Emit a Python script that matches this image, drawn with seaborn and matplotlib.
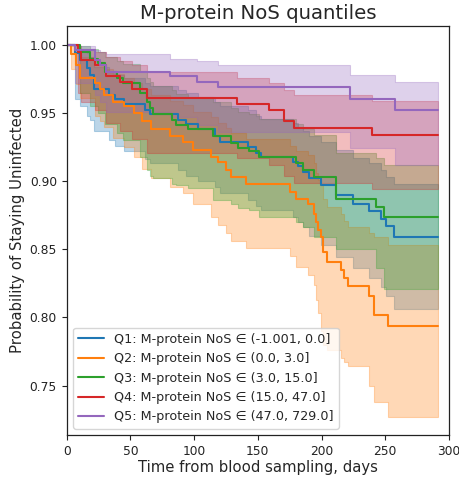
import matplotlib
matplotlib.use("Agg")
import matplotlib.pyplot as plt
import seaborn as sns

# Kaplan-Meier estimates (survival = staying uninfected) per M-protein NoS quantile.
# Each group: event days, survival after each event, and 95% CI bounds.
labels = [
    "Q1: M-protein NoS \u2208 (-1.001, 0.0]",
    "Q2: M-protein NoS \u2208 (0.0, 3.0]",
    "Q3: M-protein NoS \u2208 (3.0, 15.0]",
    "Q4: M-protein NoS \u2208 (15.0, 47.0]",
    "Q5: M-protein NoS \u2208 (47.0, 729.0]",
]
colors = ["#1f77b4", "#ff7f0e", "#2ca02c", "#d62728", "#9467bd"]
follow_up_end = 291

q1_days = [0, 6.3, 10.4, 15.9, 18.2, 21.4, 33.1, 37.8, 44.8, 61.3, 65.1, 87.1, 93.9, 103.0,
           116.0, 120.0, 142.1, 148.7, 152.6, 177.3, 181.2, 185.1, 190.4, 199.5, 211.3, 224.3,
           237.3, 246.5, 250.4, 256.9]
q1_surv = [1.0, .994, .989, .983, .978, .968, .963, .960, .957, .952, .949, .945, .942, .938,
           .933, .929, .925, .921, .918, .914, .911, .907, .902, .897, .890, .883,
           .878, .872, .867, .859]
q1_lower = [1.0, .960, .955, .948, .945, .937, .930, .926, .922, .916, .913, .908, .904, .900,
            .896, .891, .886, .882, .879, .874, .870, .866, .860, .853, .844, .836,
            .829, .822, .816, .806]
q1_upper = [1.0, .999, .997, .994, .991, .984, .980, .978, .976, .972, .970, .967, .965, .962,
            .958, .955, .952, .948, .946, .943, .940, .937, .933, .929, .923, .917,
            .913, .908, .903, .898]

q2_days = [0, 3.4, 7.3, 10.4, 22.1, 26.1, 29.2, 36.2, 44.8, 52.7, 58.9, 66.0, 80.8, 91.2, 99.1,
           113.5, 118.6, 125.2, 129.1, 140.8, 175.5, 180.2, 189.0, 194.3, 195.6, 197.4, 199.5,
           201.3, 203.9, 215.2, 217.8, 220.9, 237.3, 240.8, 252.4]
q2_surv = [1.0, .993, .985, .976, .972, .968, .963, .958, .955, .950, .944, .938, .933, .929, .923,
           .918, .914, .908, .903, .898, .892, .887, .883, .876, .870, .864, .859,
           .848, .841, .835, .829, .823, .816, .802, .794]
q2_lower = [1.0, .982, .971, .961, .948, .944, .940, .932, .925, .918, .909, .902, .896, .891, .883,
            .874, .868, .862, .856, .851, .845, .837, .831, .824, .813, .803, .790,
            .780, .776, .770, .767, .764, .750, .738, .727]
q2_upper = [1.0, .999, .996, .991, .988, .985, .982, .979, .976, .972, .968, .963, .959, .956, .951,
            .947, .943, .939, .935, .931, .926, .922, .919, .913, .906, .901, .897,
            .887, .881, .876, .871, .866, .862, .859, .853]

q3_days = [0, 10.6, 18.2, 24.5, 30.0, 39.4, 44.1, 57.4, 62.8, 65.2, 67.5, 82.4, 85.5, 95.1,
           114.7, 129.1, 134.3, 143.4, 151.3, 180.0, 185.1, 194.3, 211.3, 242.6, 249.1]
q3_surv = [1.0, .995, .990, .987, .980, .976, .972, .965, .958, .954, .949, .945, .941, .938,
           .933, .928, .924, .922, .918, .913, .908, .903, .887, .881, .874]
q3_lower = [1.0, .965, .955, .950, .942, .935, .930, .918, .908, .904, .902, .898, .897, .895,
            .886, .883, .880, .879, .874, .870, .866, .859, .850, .836, .821]
q3_upper = [1.0, .999, .997, .995, .991, .988, .986, .981, .976, .973, .970, .967, .964, .962,
            .958, .954, .951, .949, .946, .942, .938, .934, .921, .917, .912]

q4_days = [0, 8.8, 11.2, 22.1, 30.8, 41.7, 51.1, 62.8, 134.0, 159.0, 170.8, 178.6, 239.7]
q4_surv = [1.0, .995, .989, .985, .977, .973, .968, .961, .957, .952, .944, .939, .934]
q4_lower = [1.0, .965, .958, .952, .943, .937, .931, .921, .917, .912, .904, .899, .894]
q4_upper = [1.0, .999, .997, .995, .991, .988, .985, .980, .976, .972, .967, .963, .959]

q5_days = [0, 6.5, 22.0, 26.0, 31.0, 81.0, 102.0, 118.5, 222.5, 258.0]
q5_surv = [1.0, .996, .989, .985, .980, .977, .973, .969, .960, .952]
q5_lower = [1.0, .972, .963, .958, .951, .947, .941, .936, .924, .912]
q5_upper = [1.0, .999, .996, .995, .993, .990, .988, .985, .978, .973]

groups = [
    (q1_days, q1_surv, q1_lower, q1_upper),
    (q2_days, q2_surv, q2_lower, q2_upper),
    (q3_days, q3_surv, q3_lower, q3_upper),
    (q4_days, q4_surv, q4_lower, q4_upper),
    (q5_days, q5_surv, q5_lower, q5_upper),
]

sns.set_style("ticks")
plt.rcParams.update({
    "font.family": ["DejaVu Sans"],
    "axes.edgecolor": "#222222",
    "axes.linewidth": 0.9,
    "xtick.major.size": 3.5,
    "ytick.major.size": 3.5,
    "xtick.major.width": 0.8,
    "ytick.major.width": 0.8,
    "xtick.color": "#222222",
    "ytick.color": "#222222",
})

fig = plt.figure(figsize=(4.59, 4.78), dpi=100)
ax = fig.add_axes([0.1453, 0.0900, 0.8329, 0.8556])

for (days, surv, lower, upper), label, color in zip(groups, labels, colors):
    x = list(days) + [follow_up_end]
    y = list(surv) + [surv[-1]]
    lo = list(lower) + [lower[-1]]
    hi = list(upper) + [upper[-1]]
    sns.lineplot(x=x, y=y, ax=ax, color=color, label=label, linewidth=1.5,
                 drawstyle="steps-post", estimator=None, sort=False)
    ax.fill_between(x, lo, hi, step="post", color=color, alpha=0.3, linewidth=0.8)

ax.set_xlim(0, 300)
ax.set_ylim(0.7137, 1.0139)
ax.set_xticks([0, 50, 100, 150, 200, 250, 300])
ax.set_yticks([0.75, 0.80, 0.85, 0.90, 0.95, 1.00])
ax.set_yticklabels(["0.75", "0.80", "0.85", "0.90", "0.95", "1.00"])
ax.tick_params(labelsize=8.8)
for side in ["top", "right", "left", "bottom"]:
    ax.spines[side].set_visible(True)

ax.set_title("M-protein NoS quantiles", fontsize=14.2, pad=5)
ax.set_xlabel("Time from blood sampling, days", fontsize=10.7, labelpad=2)
ax.set_ylabel("Probability of Staying Uninfected", fontsize=10.7, labelpad=3)

ax.legend(loc="lower left", fontsize=9.2, frameon=True, framealpha=0.8,
          edgecolor="#cccccc", fancybox=True)

fig.savefig("out.png", dpi=100)
